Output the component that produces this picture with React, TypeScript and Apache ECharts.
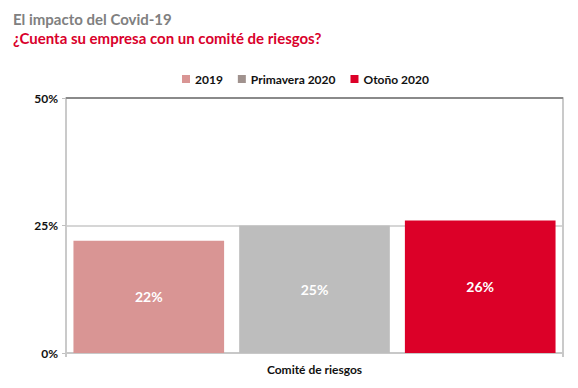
import React, { useEffect, useRef } from "react";
import * as echarts from "echarts";

const categories = ["Comité de riesgos"];
const seriesNames = ["2019", "Primavera 2020", "Otoño 2020"];
const values2019 = [22];
const valuesPrimavera = [25];
const valuesOtono = [26];
const yTicks = [0, 25, 50];

const barColors = ["#d99594", "#bdbdbd", "#dc0028"];
const legendColors = ["#d99594", "#a0928e", "#dc0028"];
const FONT = "Lato, 'Open Sans', sans-serif";

export default function App() {
  const ref = useRef<HTMLDivElement>(null);
  useEffect(() => {
    if (!ref.current) return;
    const chart = echarts.init(ref.current, undefined, { renderer: "svg" });
    const allValues = [values2019, valuesPrimavera, valuesOtono];
    const label = {
      show: true,
      position: "inside",
      formatter: "{c}%",
      color: "#ffffff",
      fontWeight: "bold",
      fontSize: 14,
      fontFamily: FONT,
    };
    chart.setOption({
      animation: false,
      textStyle: { fontFamily: FONT },
      title: {
        text: "El impacto del Covid-19",
        subtext: "¿Cuenta su empresa con un comité de riesgos?",
        left: 0,
        top: -2,
        itemGap: 4,
        textStyle: { color: "#808080", fontSize: 15, fontWeight: "bold", fontFamily: FONT },
        subtextStyle: { color: "#d9002b", fontSize: 15, fontWeight: "bold", fontFamily: FONT },
      },
      legend: {
        top: 60,
        left: 169,
        itemWidth: 8,
        itemHeight: 8,
        itemGap: 15,
        icon: "rect",
        textStyle: { fontSize: 12, fontWeight: "bold", color: "#111", fontFamily: FONT },
        data: seriesNames.map((n, i) => ({ name: n, itemStyle: { color: legendColors[i] } })),
      },
      grid: { left: 58, right: 7, top: 90, bottom: 27, containLabel: false },
      xAxis: {
        type: "category",
        data: categories,
        axisLine: { lineStyle: { color: "#c8c8c8", width: 2 } },
        axisTick: { show: true, length: 4, lineStyle: { color: "#c8c8c8", width: 2 } },
        axisLabel: { color: "#111", fontWeight: "bold", fontSize: 12, margin: 10, fontFamily: FONT },
      },
      yAxis: [
        {
          type: "value",
          min: yTicks[0],
          max: yTicks[yTicks.length - 1],
          interval: yTicks[1] - yTicks[0],
          axisLine: { show: true, lineStyle: { color: "#cacaca", width: 2 } },
          axisTick: { show: true, length: 4, lineStyle: { color: "#c0c0c0" } },
          splitLine: { lineStyle: { color: "#c8c8c8", width: 1.5 } },
          axisLabel: { formatter: "{value}%", color: "#111", fontWeight: "bold", fontSize: 12, margin: 8, fontFamily: FONT },
        },
        {
          type: "value",
          position: "right",
          min: yTicks[0],
          max: yTicks[yTicks.length - 1],
          interval: yTicks[1] - yTicks[0],
          axisLine: { show: true, lineStyle: { color: "#cacaca", width: 2 } },
          axisTick: { show: false },
          splitLine: { show: false },
          axisLabel: { show: false },
        },
      ],
      series: seriesNames.map((n, i) => ({
        name: n,
        type: "bar",
        data: allValues[i],
        barGap: "10%",
        barCategoryGap: "3%",
        itemStyle: { color: barColors[i] },
        label,
        ...(i === 0
          ? {
              markLine: {
                silent: true,
                symbol: "none",
                label: { show: false },
                lineStyle: { color: "#8a8a8a", width: 2, type: "solid" },
                data: [{ yAxis: yTicks[yTicks.length - 1] }],
              },
            }
          : {}),
      })),
    });
    return () => chart.dispose();
  }, []);
  return <div ref={ref} style={{ width: 562, height: 372 }} />;
}
